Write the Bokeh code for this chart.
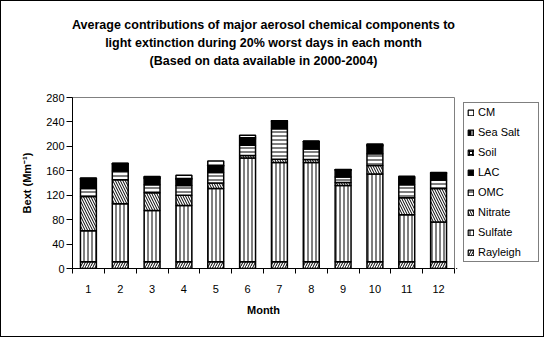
from bokeh.plotting import figure
from bokeh.models import ColumnDataSource, Range1d, FixedTicker, Legend, LegendItem, Title
from bokeh.layouts import row
from bokeh.embed import file_html
from bokeh.resources import INLINE

months = [1, 2, 3, 4, 5, 6, 7, 8, 9, 10, 11, 12]
month_labels = ["1", "2", "3", "4", "5", "6", "7", "8", "9", "10", "11", "12"]
y_ticks = [0, 40, 80, 120, 160, 200, 240, 280]

rayleigh = [11, 11, 11, 11, 11, 11, 11, 11, 11, 11, 11, 11]
sulfate = [51, 95, 84, 92, 120, 170, 162.5, 162.5, 125, 143.7, 77, 65]
nitrate = [56, 39.5, 29, 17, 9, 4, 5.5, 5, 5, 14, 28, 55]
omc = [13, 14, 13, 16, 17, 17, 50, 17, 9, 19, 21, 14]
lac = [15, 11, 10, 10, 10, 10, 12, 12, 11, 13, 10, 11]
soil = [1, 1, 1, 1, 1.5, 1.5, 0.5, 0.5, 0.5, 1, 1, 0.5]
sea_salt = [0.5, 0.5, 0.5, 0.5, 0.5, 0.5, 0.3, 0.3, 0.3, 0.5, 0.5, 0.3]
cm = [0.5, 0.5, 2, 5, 7, 4, 0.2, 0.2, 0.2, 1.5, 2.5, 0.2]

names = ["Rayleigh", "Sulfate", "Nitrate", "OMC", "LAC", "Soil", "Sea Salt", "CM"]
keys = ["rayleigh", "sulfate", "nitrate", "omc", "lac", "soil", "sea_salt", "cm"]

title_lines = ["Average contributions of major aerosol chemical components to",
               "light extinction during 20% worst days in each month",
               "(Based on data available in 2000-2004)"]

source = ColumnDataSource(dict(
    month=months, rayleigh=rayleigh, sulfate=sulfate, nitrate=nitrate, omc=omc,
    lac=lac, soil=soil, sea_salt=sea_salt, cm=cm))

font = "Liberation Sans"

fills = ["white", "white", "white", "white", "black", "white", "black", "white"]
hatches = ["/", "|", "\\", "-", " ", "+", "|", " "]
hatch_colors = ["black", "black", "black", "black", "black", "black", "white", "black"]
hatch_scales = [5, 4, 5, 4, 4, 3, 8, 4]

# ---------------- main chart ----------------
p = figure(width=455, height=335, output_backend="svg", toolbar_location=None,
           min_border_left=71, min_border_right=2, min_border_top=96, min_border_bottom=68,
           x_range=Range1d(0.5, 12.5), y_range=Range1d(0, 280))
p.title = None
p.background_fill_color = "white"
p.border_fill_color = "white"
p.outline_line_color = "#808080"
p.outline_line_width = 1
p.xgrid.visible = False
p.ygrid.visible = False

renderers = p.vbar_stack(keys, x="month", width=0.5, source=source,
                         fill_color=fills, line_color="black", line_width=1.5,
                         hatch_pattern=hatches, hatch_color=hatch_colors,
                         hatch_scale=hatch_scales, hatch_weight=1)

# spacer + three title lines (first added sits closest to the frame)
p.add_layout(Title(text=" ", text_font_size="11.5px", standoff=15), "above")
for t in title_lines[::-1]:
    p.add_layout(Title(text=t, align="center", text_font=font, text_font_size="12.5px",
                       text_font_style="bold", text_color="black", standoff=2), "above")

p.xaxis.ticker = FixedTicker(ticks=months, minor_ticks=[m - 0.5 for m in months] + [12.5])
p.xaxis.major_label_overrides = {m: l for m, l in zip(months, month_labels)}
p.xaxis.major_tick_out = 0
p.xaxis.major_tick_in = 0
p.xaxis.minor_tick_out = 5
p.xaxis.minor_tick_in = 0
p.xaxis.major_label_standoff = 11
p.xaxis.axis_label = "Month"
p.xaxis.axis_label_standoff = 8

p.yaxis.ticker = FixedTicker(ticks=y_ticks, minor_ticks=[])
p.yaxis.major_tick_out = 6
p.yaxis.major_tick_in = 0
p.yaxis.major_label_standoff = 2
p.yaxis.axis_label = "Bext (Mm\u207b\u00b9)"
p.yaxis.axis_label_standoff = 10

for ax in (p.xaxis, p.yaxis):
    ax.axis_line_color = "black"
    ax.major_tick_line_color = "black"
    ax.minor_tick_line_color = "black"
    ax.major_label_text_font = font
    ax.major_label_text_font_size = "11px"
    ax.major_label_text_color = "black"
    ax.axis_label_text_font = font
    ax.axis_label_text_font_size = "11px"
    ax.axis_label_text_font_style = "bold"
    ax.axis_label_text_color = "black"

# ---------------- legend panel ----------------
pl = figure(width=87, height=335, output_backend="svg", toolbar_location=None,
            min_border_left=0, min_border_right=0, min_border_top=96, min_border_bottom=68,
            x_range=Range1d(0, 1), y_range=Range1d(0, 1),
            x_axis_location=None, y_axis_location=None)
pl.title = None
pl.outline_line_color = None
pl.xgrid.visible = False
pl.ygrid.visible = False
pl.background_fill_color = "white"
pl.border_fill_color = "white"

# legend proxies: one point each, placed outside the visible range
proxies = []
for i in range(len(names)):
    proxies.append(pl.vbar(x=[-5], top=[-5], bottom=[-6], width=0.5, fill_color=fills[i],
                           line_color="black", line_width=1.2, hatch_pattern=hatches[i],
                           hatch_color=hatch_colors[i], hatch_scale=hatch_scales[i],
                           hatch_weight=1))

items = [LegendItem(label=n, renderers=[r]) for n, r in zip(names, proxies)][::-1]
legend = Legend(items=items, location=(7, 6), orientation="vertical",
                label_text_font=font, label_text_font_size="11px", label_text_color="black",
                glyph_width=7, glyph_height=7, label_height=11, label_width=57,
                label_standoff=4, spacing=8, padding=3, margin=0,
                border_line_color="black", border_line_width=1,
                background_fill_color="white", background_fill_alpha=1)
pl.add_layout(legend, "center")

layout = row(p, pl, spacing=0)
layout.styles = {"border": "1px solid black"}

open("out.html", "w").write(file_html(layout, INLINE))
